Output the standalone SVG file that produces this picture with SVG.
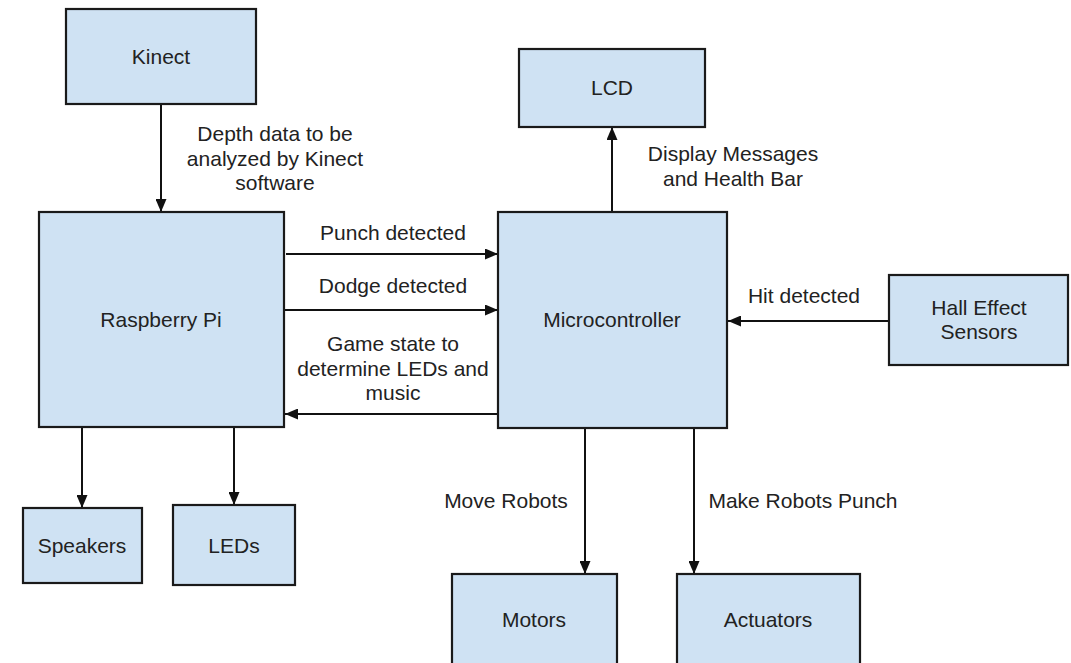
<svg xmlns="http://www.w3.org/2000/svg" width="1071" height="663" viewBox="0 0 1071 663">
<style>
.box{fill:#cfe2f3;stroke:#1a1a1a;stroke-width:2.2}
.t{font-family:"Liberation Sans",Arial,sans-serif;font-size:21px;fill:#222;text-anchor:middle}
.c{stroke:#111;stroke-width:2;fill:none;marker-end:url(#ah)}
</style>
<defs>
<marker id="ah" markerUnits="userSpaceOnUse" markerWidth="13" markerHeight="11" refX="13" refY="5.5" orient="auto">
<path d="M0,0 L13,5.5 L0,11 z" fill="#111"/>
</marker>
</defs>
<rect width="1071" height="663" fill="#fff"/>
<g id="connectors">
<line class="c" x1="161" y1="104" x2="161" y2="212"/>
<line class="c" x1="286" y1="254" x2="498" y2="254"/>
<line class="c" x1="285" y1="310" x2="498" y2="310"/>
<line class="c" x1="503" y1="414" x2="285" y2="414"/>
<line class="c" x1="612" y1="212" x2="612" y2="127"/>
<line class="c" x1="889" y1="321" x2="728" y2="321"/>
<line class="c" x1="82" y1="427" x2="82" y2="508"/>
<line class="c" x1="234" y1="427" x2="234" y2="505"/>
<line class="c" x1="585" y1="428" x2="585" y2="574"/>
<line class="c" x1="694" y1="428" x2="694" y2="574"/>
<text class="t" x="275" y="141">Depth data to be</text>
<text class="t" x="275" y="166">analyzed by Kinect</text>
<text class="t" x="275" y="190">software</text>
<text class="t" x="393" y="240">Punch detected</text>
<text class="t" x="393" y="293">Dodge detected</text>
<text class="t" x="393" y="351">Game state to</text>
<text class="t" x="393" y="376">determine LEDs and</text>
<text class="t" x="393" y="400">music</text>
<text class="t" x="733" y="161">Display Messages</text>
<text class="t" x="733" y="186">and Health Bar</text>
<text class="t" x="804" y="303">Hit detected</text>
<text class="t" x="506" y="508">Move Robots</text>
<text class="t" x="803" y="508">Make Robots Punch</text>
</g>
<g id="kinect"><rect class="box" x="66" y="9" width="190" height="95"/><text class="t" x="161" y="64">Kinect</text></g>
<g id="raspberry-pi"><rect class="box" x="39" y="212" width="245" height="215"/><text class="t" x="161" y="327">Raspberry Pi</text></g>
<g id="microcontroller"><rect class="box" x="498" y="212" width="229" height="216"/><text class="t" x="612" y="327">Microcontroller</text></g>
<g id="lcd"><rect class="box" x="519" y="49" width="186" height="78"/><text class="t" x="612" y="95">LCD</text></g>
<g id="hall-effect-sensors"><rect class="box" x="889" y="275" width="179" height="90"/><text class="t" x="979" y="315">Hall Effect</text><text class="t" x="979" y="339">Sensors</text></g>
<g id="speakers"><rect class="box" x="23" y="508" width="119" height="75"/><text class="t" x="82" y="553">Speakers</text></g>
<g id="leds"><rect class="box" x="173" y="505" width="122" height="80"/><text class="t" x="234" y="553">LEDs</text></g>
<g id="motors"><rect class="box" x="452" y="574" width="165" height="92"/><text class="t" x="534" y="627">Motors</text></g>
<g id="actuators"><rect class="box" x="677" y="574" width="183" height="92"/><text class="t" x="768" y="627">Actuators</text></g>
</svg>
